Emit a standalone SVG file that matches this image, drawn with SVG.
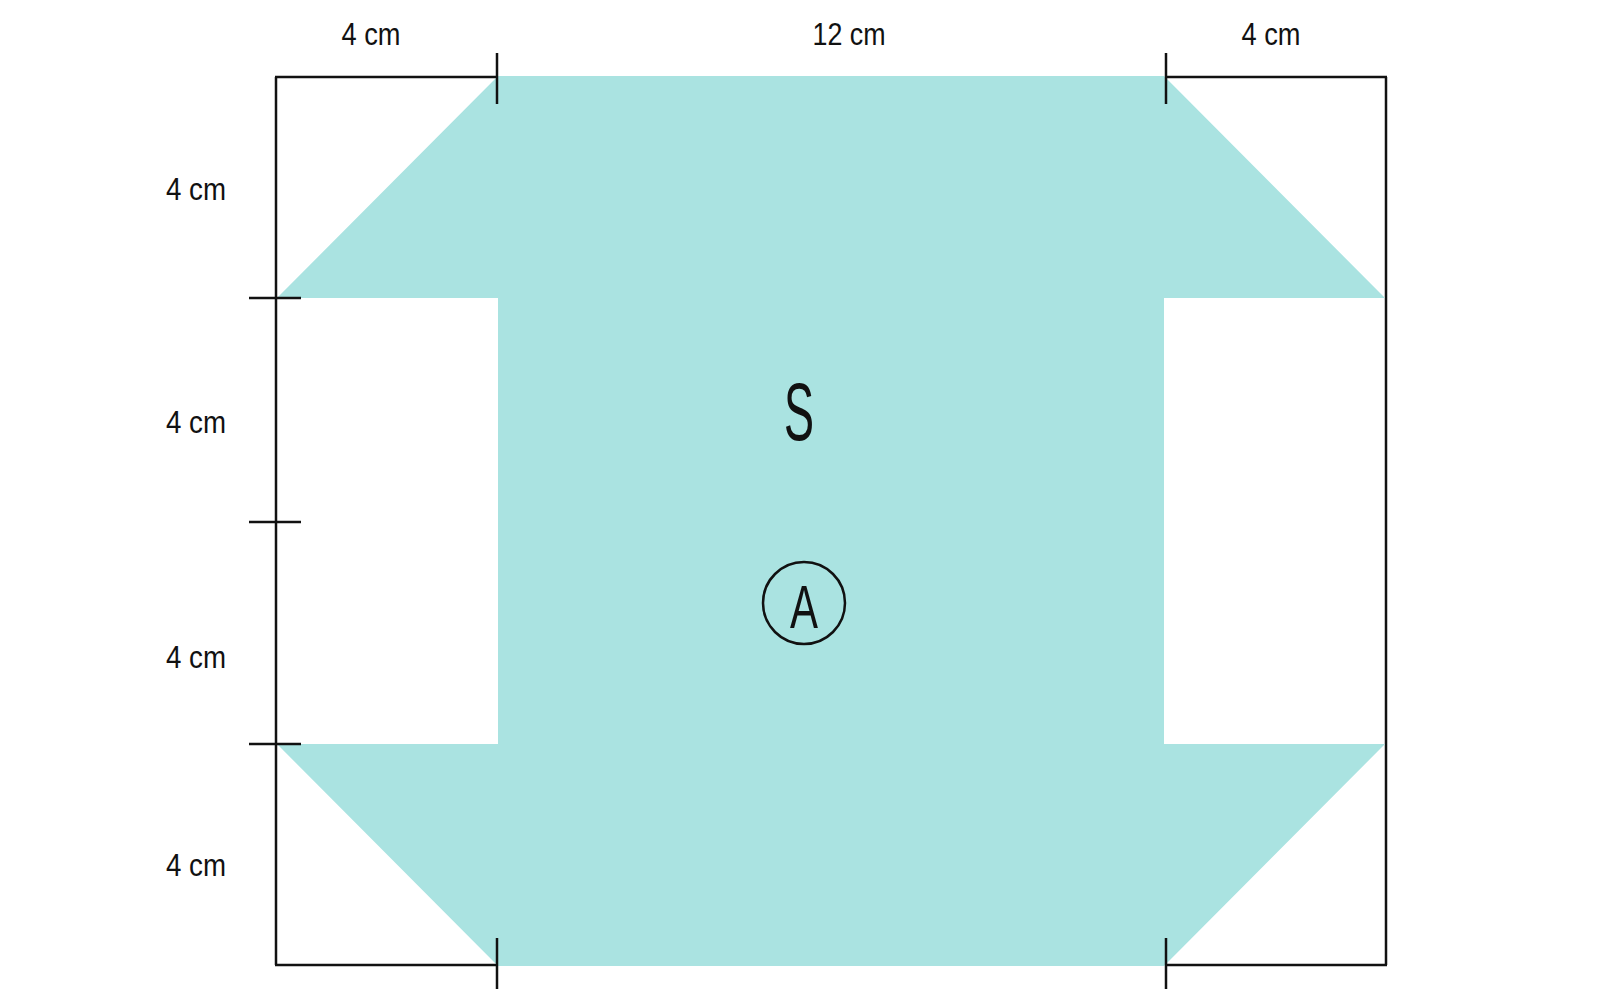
<svg xmlns="http://www.w3.org/2000/svg" width="1600" height="1000" viewBox="0 0 1600 1000">
<style>
.ln{stroke:#111;stroke-width:2.5;fill:none}
.lbl{font-family:"Liberation Sans",Arial,sans-serif;font-size:32px;fill:#111;text-anchor:middle}
.big{font-family:"Liberation Sans",Arial,sans-serif;fill:#111;text-anchor:middle}
</style>
<rect width="1600" height="1000" fill="#fff"/>
<g id="frame">
<line class="ln" x1="276" y1="77" x2="276" y2="965"/>
<line class="ln" x1="1386" y1="77" x2="1386" y2="965"/>
<line class="ln" x1="275" y1="77" x2="497" y2="77"/>
<line class="ln" x1="1166" y1="77" x2="1387" y2="77"/>
<line class="ln" x1="275" y1="965" x2="497" y2="965"/>
<line class="ln" x1="1166" y1="965" x2="1387" y2="965"/>
</g>
<g id="shape">
<polygon fill="#aae3e1" points="498,76 1164,76 1385,298 1164,298 1164,744 1385,744 1164,966 498,966 277,744 498,744 498,298 277,298"/>
</g>
<g id="ticks">
<line class="ln" x1="497" y1="53" x2="497" y2="104"/>
<line class="ln" x1="1166" y1="53" x2="1166" y2="104"/>
<line class="ln" x1="497" y1="938" x2="497" y2="989"/>
<line class="ln" x1="1166" y1="938" x2="1166" y2="989"/>
<line class="ln" x1="249" y1="298" x2="301" y2="298"/>
<line class="ln" x1="249" y1="522" x2="301" y2="522"/>
<line class="ln" x1="249" y1="744" x2="301" y2="744"/>
</g>
<g id="labels">
<text class="lbl" x="371" y="45" textLength="59" lengthAdjust="spacingAndGlyphs">4 cm</text>
<text class="lbl" x="849" y="45" textLength="73" lengthAdjust="spacingAndGlyphs">12 cm</text>
<text class="lbl" x="1271" y="45" textLength="59" lengthAdjust="spacingAndGlyphs">4 cm</text>
<text class="lbl" x="196" y="200" textLength="60" lengthAdjust="spacingAndGlyphs">4 cm</text>
<text class="lbl" x="196" y="433" textLength="60" lengthAdjust="spacingAndGlyphs">4 cm</text>
<text class="lbl" x="196" y="668" textLength="60" lengthAdjust="spacingAndGlyphs">4 cm</text>
<text class="lbl" x="196" y="876" textLength="60" lengthAdjust="spacingAndGlyphs">4 cm</text>
</g>
<g id="S">
<text class="big" x="799" y="440" font-size="82" textLength="30" lengthAdjust="spacingAndGlyphs">S</text>
</g>
<g id="A">
<circle class="ln" cx="804" cy="603" r="41" stroke-width="2"/>
<text class="big" x="804" y="628" font-size="62" textLength="28" lengthAdjust="spacingAndGlyphs">A</text>
</g>
</svg>
